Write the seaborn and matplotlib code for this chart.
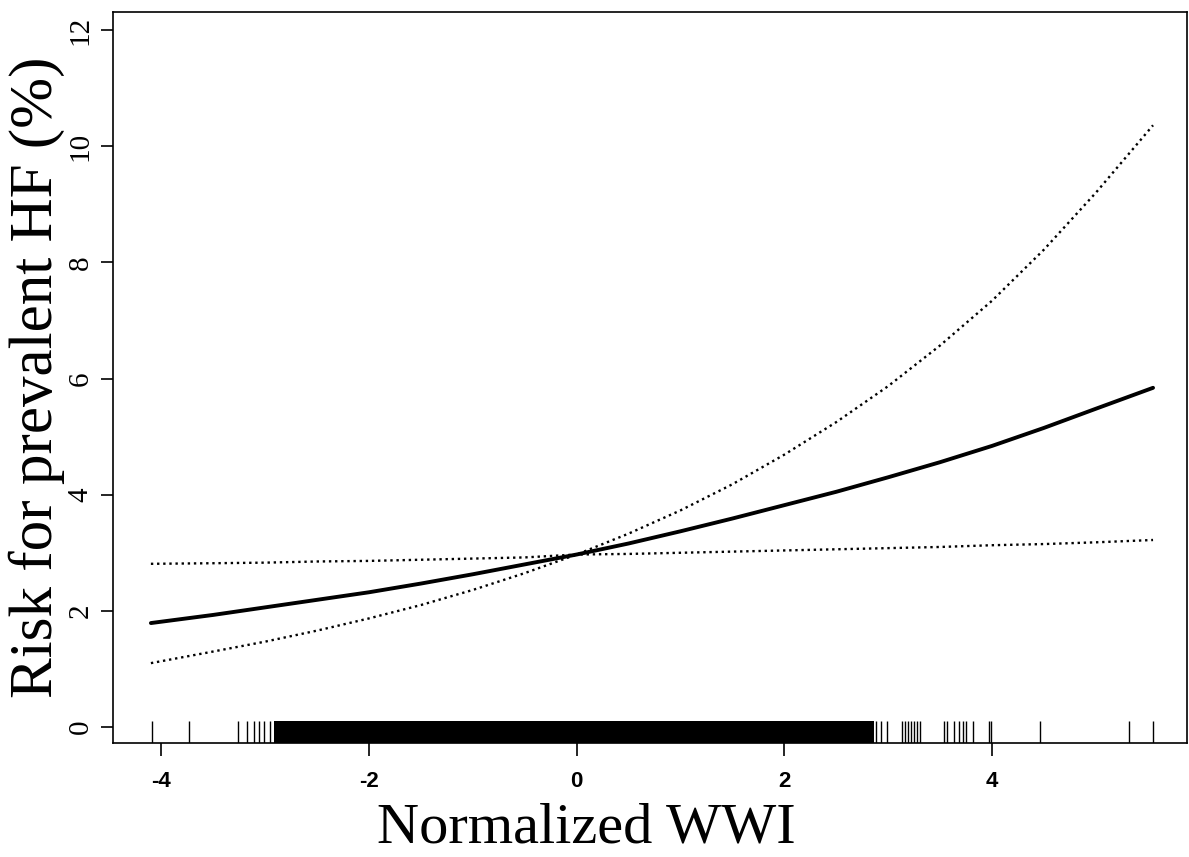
import numpy as np
import pandas as pd
import matplotlib
matplotlib.use("Agg")
import matplotlib.pyplot as plt
import seaborn as sns

####Data#######################################################################
wwi = [-4.1, -3.5, -3.0, -2.5, -2.0, -1.5, -1.0, -0.5, 0.0, 0.5,
       1.0, 1.5, 2.0, 2.5, 3.0, 3.5, 4.0, 4.5, 5.0, 5.55]

risk = [1.79, 1.93, 2.06, 2.19, 2.32, 2.47, 2.63, 2.80, 2.97, 3.16,
        3.37, 3.59, 3.82, 4.05, 4.30, 4.56, 4.84, 5.15, 5.48, 5.84]

ci_steep = [1.10, 1.30, 1.47, 1.66, 1.87, 2.10, 2.36, 2.65, 2.97, 3.33,
            3.73, 4.18, 4.69, 5.25, 5.87, 6.57, 7.34, 8.22, 9.20, 10.36]

ci_flat = [2.81, 2.82, 2.83, 2.85, 2.86, 2.88, 2.90, 2.92, 2.97, 2.98,
           3.00, 3.02, 3.04, 3.06, 3.08, 3.10, 3.13, 3.15, 3.18, 3.22]

# sparse rug marks outside the dense band
rug_x = [-4.09, -3.73, -3.26, -3.17, -3.11, -3.06, -3.01, -2.95,
         2.88, 2.93, 2.99, 3.13, 3.16, 3.19, 3.22, 3.25, 3.28, 3.31,
         3.54, 3.57, 3.63, 3.68, 3.72, 3.75, 3.82, 3.97, 3.99, 4.46,
         5.32, 5.55]
# dense band of observations (solid black in the rug)
rug_dense = [-2.91, 2.86]

x_ticks = [-4, -2, 0, 2, 4]
y_ticks = [0, 2, 4, 6, 8, 10, 12]

df = pd.DataFrame({"wwi": wwi, "risk": risk,
                   "ci_steep": ci_steep, "ci_flat": ci_flat})

####Plot#######################################################################
sns.set_style("white")
plt.rcParams["font.family"] = ["Liberation Serif", "DejaVu Serif"]
plt.rcParams.update({"text.color": "black", "axes.labelcolor": "black",
                     "xtick.color": "black", "ytick.color": "black"})

fig = plt.figure(figsize=(11.89, 8.57), dpi=100)
ax = fig.add_axes([113 / 1189, 114 / 857, 1074 / 1189, 731 / 857])

sns.lineplot(data=df, x="wwi", y="risk", color="black", lw=2.8, ax=ax)
sns.lineplot(data=df, x="wwi", y="ci_steep", color="black", lw=1.7,
             linestyle=(0, (1, 1.6)), ax=ax)
sns.lineplot(data=df, x="wwi", y="ci_flat", color="black", lw=1.7,
             linestyle=(0, (1, 1.6)), ax=ax)

sns.rugplot(x=rug_x, height=0.03, color="black", lw=1.6, ax=ax)
ax.axvspan(rug_dense[0], rug_dense[1], ymin=0, ymax=0.03,
           color="black", lw=0)

ax.set_xlim(-4.465, 5.877)
ax.set_ylim(-0.275, 12.31)

ax.set_xticks(x_ticks)
ax.set_xticklabels([str(t) for t in x_ticks], fontsize=16,
                   fontweight="bold", family=["Liberation Sans", "DejaVu Sans"])
ax.set_yticks(y_ticks)
ax.set_yticklabels([str(t) for t in y_ticks], fontsize=21,
                   rotation=90, va="center")
ax.tick_params(axis="both", direction="out", length=9, width=1.2,
               color="black", labelcolor="black", left=True, bottom=True)
ax.tick_params(axis="x", pad=11)
ax.tick_params(axis="y", pad=5)

for sp in ax.spines.values():
    sp.set_color("black")
    sp.set_linewidth(1.2)

ax.set_xlabel("Normalized WWI", fontsize=42, color="black")
ax.xaxis.set_label_coords(473 / 1074, -0.081)
ax.set_ylabel("Risk for prevalent HF (%)", fontsize=44, color="black")
ax.yaxis.set_label_coords(-0.045, 0.5)

fig.savefig("out.png", dpi=100)
